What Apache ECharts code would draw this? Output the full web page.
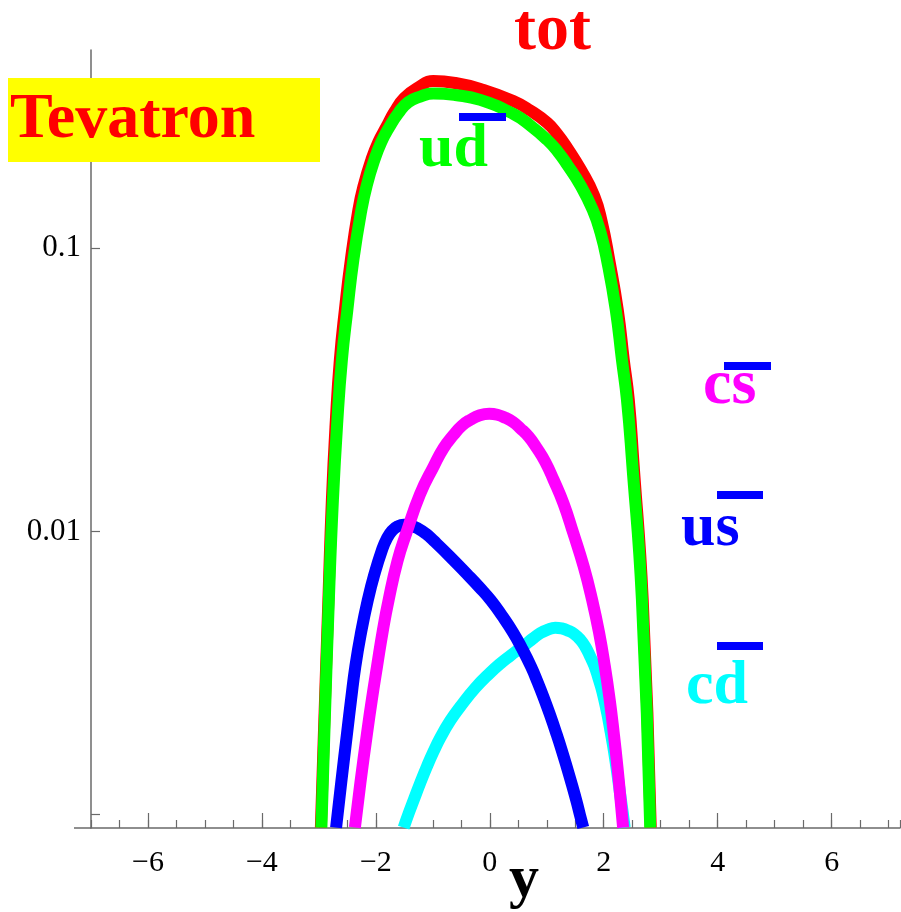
<!DOCTYPE html>
<html><head><meta charset="utf-8">
<script src="https://cdn.jsdelivr.net/npm/echarts@6/dist/echarts.min.js"></script>
<style>html,body{margin:0;padding:0;background:#fff}#c{width:901px;height:912px}</style>
</head><body><div id="c"></div>
<script>
// ---- tick values / labels ----
const xMajorTicks = [-6, -4, -2, 0, 2, 4, 6];
const xTickLabels = ['\u22126', '\u22124', '\u22122', '0', '2', '4', '6'];
const yTickValues = [0.001, 0.01, 0.1];
const yLabelValues = [0.01, 0.1];
const yTickLabels = ['0.01', '0.1'];

// ---- curves: [rapidity y, dsigma/dy] ----
const totCurve = [
  [-2.965, 0.0009], [-2.912, 0.00194], [-2.833, 0.00574], [-2.772, 0.0129], [-2.702, 0.02477],
  [-2.632, 0.0404], [-2.544, 0.06058], [-2.439, 0.091], [-2.307, 0.1365], [-2.211, 0.16727],
  [-2.079, 0.205], [-1.956, 0.23721], [-1.816, 0.268], [-1.675, 0.30255], [-1.500, 0.3391],
  [-1.254, 0.3694], [-0.991, 0.389], [-0.605, 0.383], [-0.167, 0.365], [0.412, 0.331],
  [0.711, 0.30627], [1.009, 0.277], [1.184, 0.25309], [1.360, 0.2259], [1.596, 0.18953],
  [1.833, 0.1529], [1.965, 0.12383], [2.096, 0.091], [2.246, 0.06058], [2.351, 0.0404],
  [2.439, 0.0292], [2.518, 0.0179], [2.684, 0.00574], [2.825, 0.0009]
];
const udCurve = [
  [-2.956, 0.0009], [-2.904, 0.00194], [-2.825, 0.00574], [-2.754, 0.0129], [-2.675, 0.02477],
  [-2.596, 0.0404], [-2.500, 0.06058], [-2.395, 0.091], [-2.254, 0.1365], [-2.158, 0.16727],
  [-2.026, 0.205], [-1.904, 0.23721], [-1.763, 0.268], [-1.605, 0.30012], [-1.430, 0.328],
  [-1.219, 0.34316], [-0.991, 0.352], [-0.605, 0.3475], [-0.167, 0.334], [0.412, 0.298],
  [0.711, 0.27128], [1.009, 0.241], [1.184, 0.22049], [1.360, 0.197], [1.588, 0.16727],
  [1.807, 0.1365], [1.943, 0.11369], [2.056, 0.091], [2.211, 0.06058], [2.319, 0.0404],
  [2.407, 0.0292], [2.495, 0.0179], [2.670, 0.00574], [2.816, 0.0009]
];
const cdCurve = [
  [-1.512, 0.0009], [-1.425, 0.001009], [-1.333, 0.00113], [-1.219, 0.001297], [-1.102, 0.001482],
  [-0.986, 0.001673], [-0.868, 0.001871], [-0.693, 0.002148], [-0.518, 0.002406], [-0.254, 0.002802],
  [0.009, 0.003172], [0.184, 0.003414], [0.360, 0.003642], [0.491, 0.003811], [0.623, 0.003984],
  [0.754, 0.004183], [0.886, 0.004373], [1.018, 0.004498], [1.149, 0.004572], [1.263, 0.004543],
  [1.377, 0.004462], [1.482, 0.004345], [1.588, 0.004149], [1.675, 0.003919], [1.763, 0.003613],
  [1.833, 0.003363], [1.904, 0.003046], [1.956, 0.002811], [2.009, 0.002548], [2.061, 0.002277],
  [2.114, 0.001997], [2.158, 0.001778], [2.202, 0.001565], [2.246, 0.001363], [2.289, 0.001177],
  [2.330, 0.001027], [2.368, 0.0009]
];
const usCurve = [
  [-2.698, 0.0009], [-2.604, 0.001319], [-2.505, 0.001943], [-2.435, 0.002548], [-2.360, 0.00334],
  [-2.261, 0.00438], [-2.140, 0.005741], [-2.028, 0.007034], [-1.891, 0.008618], [-1.809, 0.009424],
  [-1.716, 0.010058], [-1.614, 0.010423], [-1.512, 0.010558], [-1.382, 0.010474], [-1.254, 0.010221],
  [-1.119, 0.009806], [-0.986, 0.009273], [-0.693, 0.008128], [-0.400, 0.007068], [-0.189, 0.006372],
  [0.021, 0.005704], [0.214, 0.00504], [0.407, 0.004401], [0.565, 0.003859], [0.723, 0.003333],
  [0.840, 0.002935], [0.956, 0.002558], [1.061, 0.002237], [1.167, 0.001937], [1.261, 0.001692],
  [1.356, 0.001462], [1.440, 0.001278], [1.523, 0.001112], [1.582, 0.000998], [1.640, 0.0009]
];
const csCurve = [
  [-2.368, 0.0009], [-2.272, 0.001293], [-2.154, 0.001943], [-2.067, 0.002573], [-1.979, 0.00334],
  [-1.877, 0.004474], [-1.775, 0.005741], [-1.619, 0.00788], [-1.465, 0.009872], [-1.225, 0.013538],
  [-0.986, 0.01696], [-0.811, 0.019708], [-0.635, 0.02194], [-0.488, 0.023638], [-0.342, 0.024776],
  [-0.175, 0.025704], [-0.009, 0.026019], [0.132, 0.025811], [0.272, 0.025188], [0.404, 0.02436],
  [0.535, 0.023129], [0.682, 0.021606], [0.828, 0.019663], [0.974, 0.01759], [1.119, 0.015218],
  [1.293, 0.012555], [1.465, 0.009872], [1.646, 0.007536], [1.795, 0.005741], [1.918, 0.004391],
  [2.019, 0.00334], [2.104, 0.002548], [2.175, 0.001943], [2.239, 0.001482], [2.295, 0.00113],
  [2.340, 0.0009]
];

const axisColor = '#6a6a6a';
const serif = '"Liberation Serif", "Times New Roman", serif';
const LW = 12;

function lineSeries(name, data, color) {
  return {
    name, type: 'line', data, smooth: 0.5, showSymbol: false, symbol: 'none',
    lineStyle: { color, width: LW, cap: 'butt', join: 'round' }, clip: true,
    xAxisIndex: 0, yAxisIndex: 0, silent: true
  };
}
function nearestLabel(v, vals, labels) {
  let best = 0, bd = Infinity;
  vals.forEach((t, i) => { const d = Math.abs(Math.log10(v) - Math.log10(t)); if (d < bd) { bd = d; best = i; } });
  return labels[best];
}

const chart = echarts.init(document.getElementById('c'), null, { renderer: 'canvas' });
const option = {
  animation: false,
  backgroundColor: '#fff',
  grid: { left: 91, top: 50, width: 809, height: 778, containLabel: false },
  xAxis: [
    {
      type: 'value', min: -7, max: 7.2, position: 'bottom',
      axisLine: { show: true, onZero: false, lineStyle: { color: axisColor, width: 1.5 } },
      axisTick: { show: true, inside: true, length: 15, customValues: xMajorTicks, lineStyle: { color: axisColor, width: 1.2 } },
      axisLabel: {
        customValues: xMajorTicks,
        formatter: v => xTickLabels[xMajorTicks.indexOf(Math.round(v))],
        fontFamily: serif, fontSize: 30, color: '#000', margin: 20
      },
      splitLine: { show: false }
    },
    {
      type: 'value', min: -7, max: 7.2, interval: 0.5, position: 'bottom',
      axisLine: { show: false, onZero: false },
      axisTick: { show: true, inside: true, length: 8, lineStyle: { color: axisColor, width: 1.2 } },
      axisLabel: { show: false },
      splitLine: { show: false }
    }
  ],
  yAxis: {
    type: 'log', logBase: 10, min: 0.000897, max: 0.501,
    axisLine: { show: true, onZero: false, lineStyle: { color: axisColor, width: 1.5 } },
    axisTick: { show: true, inside: true, length: 9, customValues: yTickValues, lineStyle: { color: axisColor, width: 1.2 } },
    minorTick: { show: false },
    axisLabel: {
      customValues: yLabelValues,
      formatter: v => nearestLabel(v, yLabelValues, yTickLabels),
      fontFamily: serif, fontSize: 31, color: '#000', margin: 10
    },
    splitLine: { show: false }
  },
  series: [
    lineSeries('tot', totCurve, '#ff0000'),
    lineSeries('ud', udCurve, '#00ff00'),
    lineSeries('cd', cdCurve, '#00ffff'),
    lineSeries('us', usCurve, '#0000ff'),
    lineSeries('cs', csCurve, '#ff00ff')
  ],
  graphic: [
    { type: 'line', shape: { x1: 74, y1: 828, x2: 91, y2: 828 }, style: { stroke: axisColor, lineWidth: 1.5 }, silent: true },
    { type: 'rect', shape: { x: 8, y: 78, width: 312, height: 84 }, style: { fill: '#ffff00' }, z: 10 },
    { type: 'text', x: 10, y: 120.5, z: 11, style: { text: 'Tevatron', fill: '#ff0000', font: 'bold 64px ' + serif, align: 'left', verticalAlign: 'middle' } },
    { type: 'text', x: 514, y: 32, z: 11, style: { text: 'tot', fill: '#ff0000', font: 'bold 66px ' + serif, align: 'left', verticalAlign: 'middle' } },
    { type: 'text', x: 419, y: 149.5, z: 11, style: { text: 'ud', fill: '#00ff00', font: 'bold 62px ' + serif, align: 'left', verticalAlign: 'middle' } },
    { type: 'rect', shape: { x: 459, y: 113, width: 47, height: 8 }, style: { fill: '#0000ff' }, z: 11 },
    { type: 'text', x: 703, y: 386, z: 11, style: { text: 'cs', fill: '#ff00ff', font: 'bold 64px ' + serif, align: 'left', verticalAlign: 'middle' } },
    { type: 'rect', shape: { x: 724, y: 362, width: 47, height: 8 }, style: { fill: '#0000ff' }, z: 11 },
    { type: 'text', x: 681, y: 529, z: 11, style: { text: 'us', fill: '#0000ff', font: 'bold 62px ' + serif, align: 'left', verticalAlign: 'middle' } },
    { type: 'rect', shape: { x: 717, y: 491, width: 46, height: 8 }, style: { fill: '#0000ff' }, z: 11 },
    { type: 'text', x: 686, y: 687, z: 11, style: { text: 'cd', fill: '#00ffff', font: 'bold 62px ' + serif, align: 'left', verticalAlign: 'middle' } },
    { type: 'rect', shape: { x: 717, y: 642, width: 46, height: 8 }, style: { fill: '#0000ff' }, z: 11 },
    { type: 'text', x: 509, y: 880, z: 11, style: { text: 'y', fill: '#000000', font: 'bold 60px ' + serif, align: 'left', verticalAlign: 'middle' } }
  ]
};
chart.setOption(option);
</script>
</body></html>
